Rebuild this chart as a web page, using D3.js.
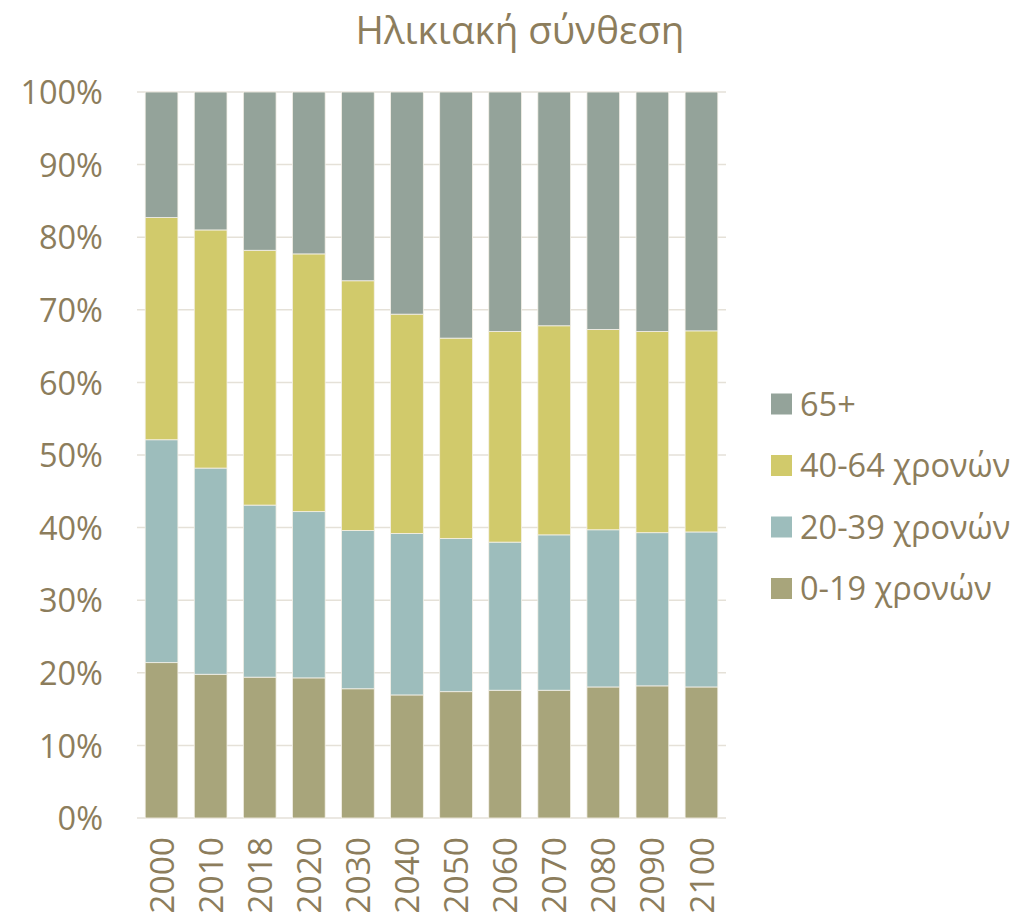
<!DOCTYPE html>
<html>
<head>
<meta charset="utf-8">
<script src="https://cdn.jsdelivr.net/npm/d3@7"></script>
<style>
  body { margin: 0; background: #fff; }
  svg text { font-family: "Open Sans", sans-serif; fill: #8c7d5c; }
</style>
</head>
<body>
<svg id="chart" width="1018" height="921"></svg>
<script>
// data (percent of population)
var years = ['2000', '2010', '2018', '2020', '2030', '2040', '2050', '2060', '2070', '2080', '2090', '2100']
var age0_19  = [21.4, 19.8, 19.4, 19.3, 17.8, 16.95, 17.4, 17.6, 17.6, 18.05, 18.2, 18.05]
var age20_39 = [30.7, 28.4, 23.7, 22.9, 21.8, 22.25, 21.1, 20.4, 21.4, 21.65, 21.1, 21.35]
var age40_64 = [30.6, 32.8, 35.1, 35.5, 34.4, 30.2, 27.6, 29.0, 28.8, 27.6, 27.7, 27.7]
var age65    = [17.3, 19.0, 21.8, 22.3, 26.0, 30.6, 33.9, 33.0, 32.2, 32.7, 33.0, 32.9]
var seriesNames = ['0-19 χρονών', '20-39 χρονών', '40-64 χρονών', '65+']
var colors = ['#a8a57b', '#9dbdbc', '#d1ca6b', '#94a39a']
var yTicks = [0, 10, 20, 30, 40, 50, 60, 70, 80, 90, 100]

var rows = years.map(function(y, i) {
    var r = {year: y}
    r[seriesNames[0]] = age0_19[i]
    r[seriesNames[1]] = age20_39[i]
    r[seriesNames[2]] = age40_64[i]
    r[seriesNames[3]] = age65[i]
    return r
})
var stacked = d3.stack().keys(seriesNames).offset(d3.stackOffsetExpand)(rows)

var svg = d3.select('#chart')
var plotLeft = 137, plotRight = 726, plotTop = 92, plotBottom = 818

var x = d3.scaleBand().domain(years).range([plotLeft, plotRight]).paddingInner(0.333).paddingOuter(0.1665)
var y = d3.scaleLinear().domain([0, 1]).range([plotBottom, plotTop])

// gridlines
svg.append('g').selectAll('line').data(yTicks).enter().append('line')
    .attr('x1', plotLeft).attr('x2', plotRight)
    .attr('y1', function(d) { return y(d / 100) }).attr('y2', function(d) { return y(d / 100) })
    .attr('stroke', '#e5e1d8').attr('stroke-width', 1.5)

// bars
svg.append('g').selectAll('g').data(stacked).enter().append('g')
    .attr('fill', function(d, i) { return colors[i] })
    .selectAll('rect').data(function(d) { return d }).enter().append('rect')
    .attr('x', function(d) { return x(d.data.year) })
    .attr('width', x.bandwidth())
    .attr('y', function(d) { return y(d[1]) })
    .attr('height', function(d) { return y(d[0]) - y(d[1]) })
    .attr('stroke', '#f4f1e8').attr('stroke-width', 0.8)

// y axis labels
var yAxis = d3.axisLeft(y).tickValues(yTicks.map(function(d) { return d / 100 }))
    .tickFormat(d3.format('.0%')).tickSize(0).tickPadding(34)
var gy = svg.append('g').attr('transform', 'translate(' + plotLeft + ',0)').call(yAxis)
gy.select('.domain').remove()
gy.selectAll('text').attr('font-size', 32.5).attr('fill', '#8c7d5c').attr('dy', '0.36em')
    .style('font-family', '"Open Sans", sans-serif')

// x axis labels, rotated
var xAxis = d3.axisBottom(x).tickSize(0).tickPadding(0)
var gx = svg.append('g').attr('transform', 'translate(0,' + plotBottom + ')').call(xAxis)
gx.select('.domain').remove()
gx.selectAll('text')
    .attr('font-size', 33.5).attr('fill', '#8c7d5c')
    .style('font-family', '"Open Sans", sans-serif')
    .attr('text-anchor', 'end')
    .attr('transform', 'translate(0,19) rotate(-90)')
    .attr('x', 0).attr('y', 0).attr('dy', '0.36em')

// title
svg.append('text').attr('x', 520).attr('y', 44).attr('text-anchor', 'middle')
    .attr('font-size', 38.5).text('Ηλικιακή σύνθεση')

// legend, 65+ on top
var legend = svg.append('g').selectAll('g').data(seriesNames.slice().reverse()).enter().append('g')
    .attr('transform', function(d, i) { return 'translate(771,' + (404 + i * 61.5) + ')' })
legend.append('rect').attr('x', 0).attr('y', -10.5).attr('width', 21).attr('height', 21)
    .attr('fill', function(d) { return colors[seriesNames.indexOf(d)] })
legend.append('text').attr('x', 29).attr('y', 0).attr('dy', '0.36em')
    .attr('font-size', 32.5).text(function(d) { return d })
</script>
</body>
</html>
